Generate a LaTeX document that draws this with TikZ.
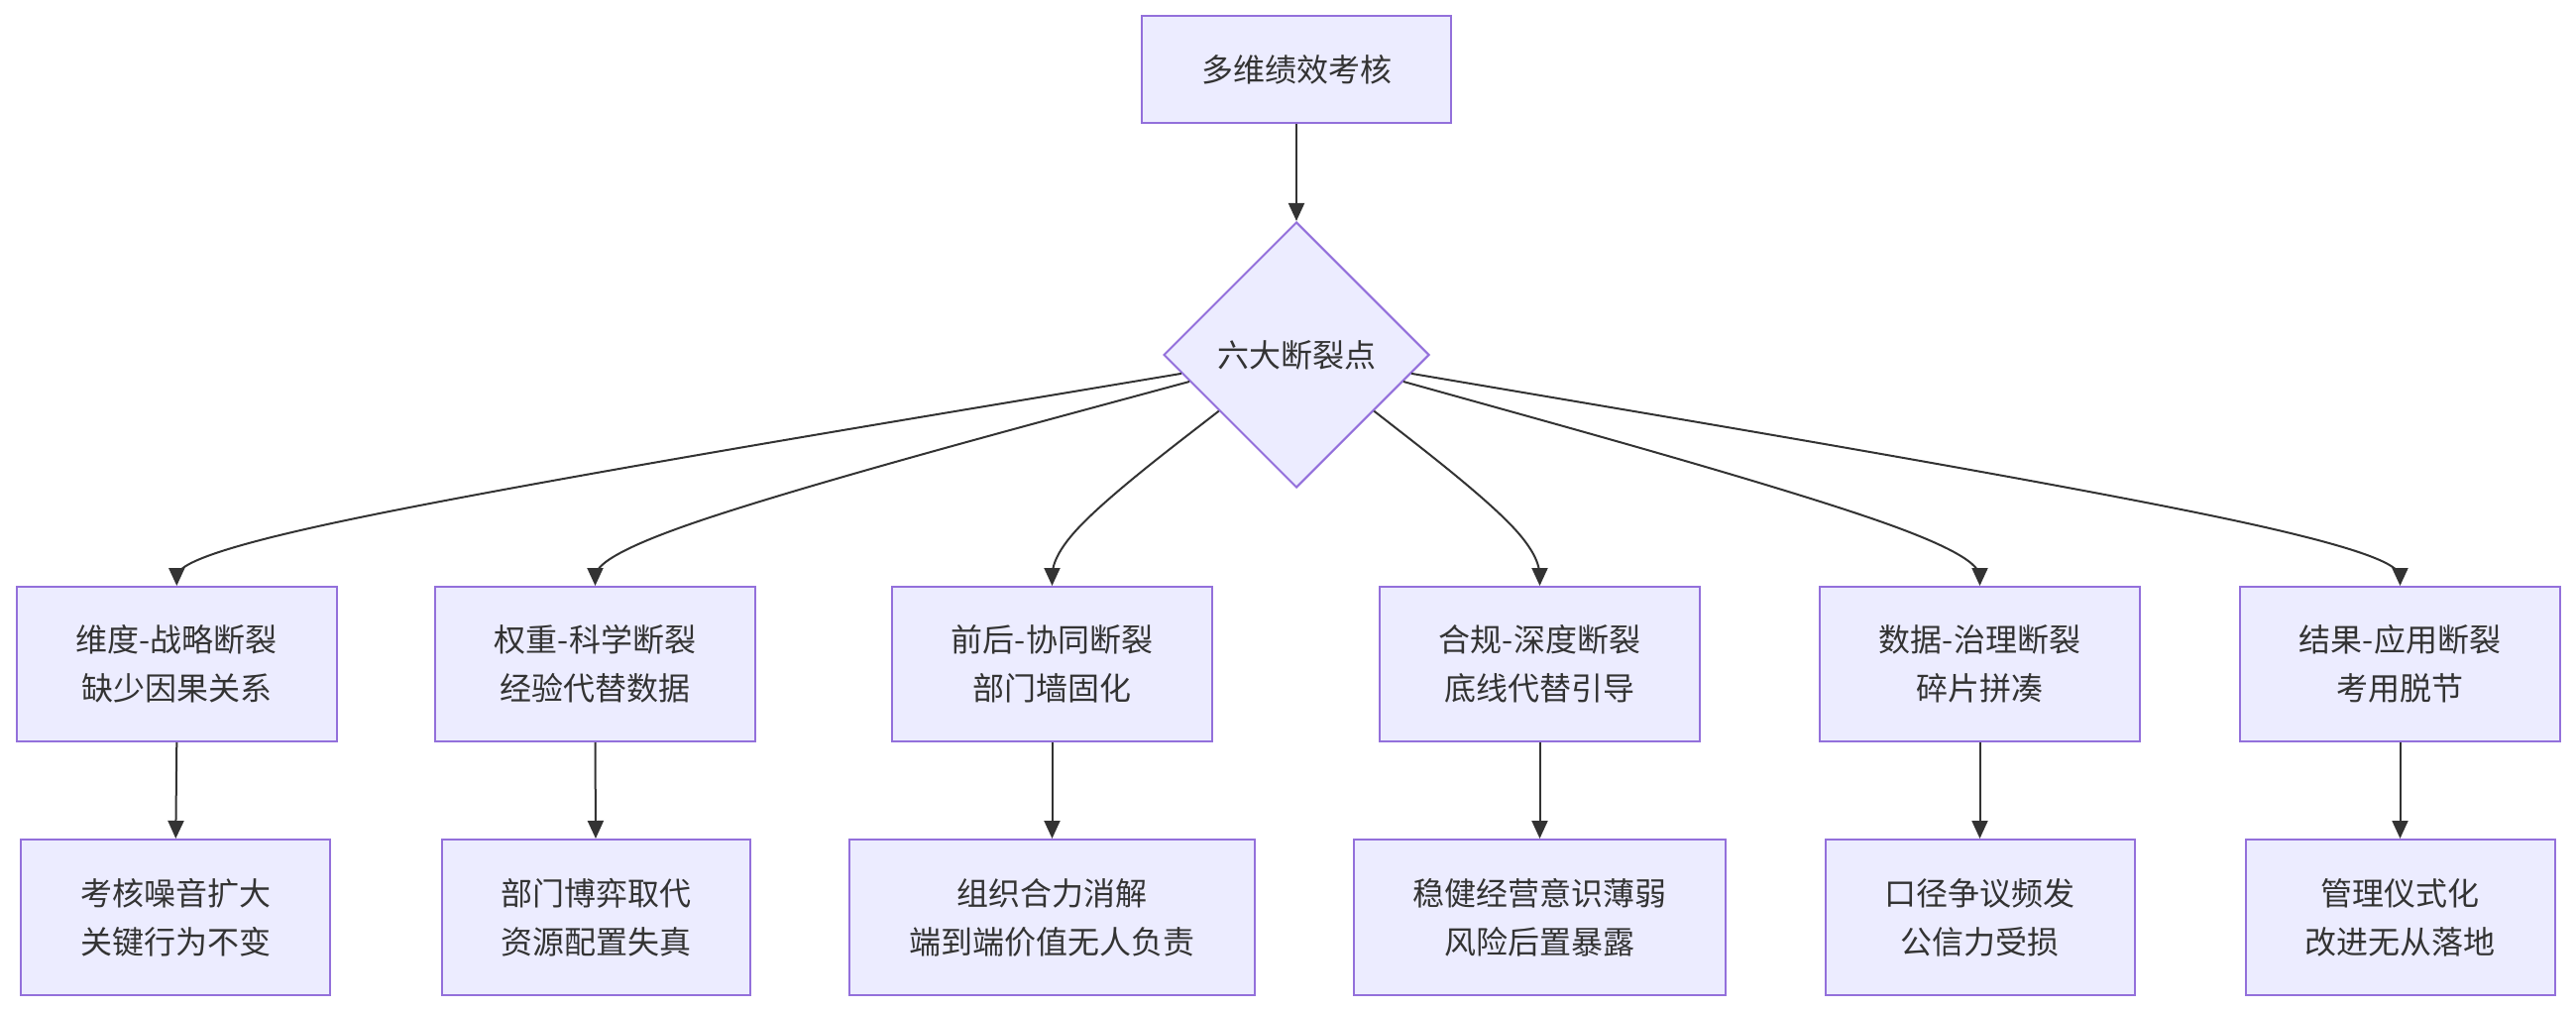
\documentclass[tikz,border=0pt]{standalone}
\usepackage{fontspec}
\setmainfont{Noto Sans CJK SC}
\usetikzlibrary{shapes.geometric,calc,arrows.meta}
\definecolor{mfill}{HTML}{ECECFF}
\definecolor{mline}{HTML}{9370DB}
\definecolor{mtext}{HTML}{333333}
\definecolor{medge}{HTML}{333333}
\newcommand\basisedge[3]{\draw[edge] (#1) -- ($(#1)!0.166667!(#2)$) .. controls ($(#1)!0.333333!(#2)$) and ($(#1)!0.666667!(#2)$) .. ($0.166667*(#1)+0.666667*(#2)+0.166667*(#3)$) .. controls ($(#2)!0.333333!(#3)$) and ($(#2)!0.666667!(#3)$) .. ($(#2)!0.833333!(#3)$) -- (#3);}
\begin{document}
\begin{tikzpicture}[x=0.75pt,y=-0.75pt,
  box/.style={draw=mline,fill=mfill,line width=1.5pt,text=mtext,align=center,inner sep=0pt,
    font=\fontsize{24}{36.75}\selectfont},
  dia/.style={diamond,draw=mline,fill=mfill,line width=1.5pt,text=mtext,inner sep=0pt,
    minimum width=201pt,minimum height=201pt,font=\fontsize{24}{36.75}\selectfont},
  edge/.style={draw=medge,line width=1.5pt,-{Triangle[length=13.5pt,width=12pt]}},
  rowb/.style={box,minimum width=242.25pt,minimum height=117pt},
  rowc/.style={box,minimum height=117.75pt}]
\useasboundingbox (0,0) rectangle (2599,1020);
\node[box,minimum width=234pt,minimum height=81pt] (top) at (1308,70) {多维绩效考核};
\node[dia] (d) at (1308,358) {六大断裂点};
\node[rowb] (b1) at (178.3,670) {维度-战略断裂\\缺少因果关系};
\node[rowb] (b2) at (600.5,670) {权重-科学断裂\\经验代替数据};
\node[rowb] (b3) at (1061.5,670) {前后-协同断裂\\部门墙固化};
\node[rowb] (b4) at (1553.5,670) {合规-深度断裂\\底线代替引导};
\node[rowb] (b5) at (1997.5,670) {数据-治理断裂\\碎片拼凑};
\node[rowb] (b6) at (2421.5,670) {结果-应用断裂\\考用脱节};
\node[rowc,minimum width=234pt] (c1) at (177.3,925.5) {考核噪音扩大\\关键行为不变};
\node[rowc,minimum width=233.25pt] (c2) at (601,925.5) {部门博弈取代\\资源配置失真};
\node[rowc,minimum width=306.75pt] (c3) at (1061.5,925.5) {组织合力消解\\端到端价值无人负责};
\node[rowc,minimum width=281.25pt] (c4) at (1553.5,925.5) {稳健经营意识薄弱\\风险后置暴露};
\node[rowc,minimum width=234pt] (c5) at (1997.5,925.5) {口径争议频发\\公信力受损};
\node[rowc,minimum width=234pt] (c6) at (2421.5,925.5) {管理仪式化\\改进无从落地};
\draw[edge] (top.south) -- (d.north);
\coordinate (s1) at ($(d.west)!0.14!(d.south)$);
\coordinate (s2) at ($(d.west)!0.20!(d.south)$);
\coordinate (s3) at ($(d.west)!0.42!(d.south)$);
\coordinate (s4) at ($(d.east)!0.42!(d.south)$);
\coordinate (s5) at ($(d.east)!0.20!(d.south)$);
\coordinate (s6) at ($(d.east)!0.14!(d.south)$);
\coordinate (m1) at (178.3,546);
\coordinate (m2) at (600.5,547);
\coordinate (m3) at (1061.5,545);
\coordinate (m4) at (1553.5,545);
\coordinate (m5) at (1997.5,547);
\coordinate (m6) at (2421.5,546);
\basisedge{s1}{m1}{b1.north}
\basisedge{s2}{m2}{b2.north}
\basisedge{s3}{m3}{b3.north}
\basisedge{s4}{m4}{b4.north}
\basisedge{s5}{m5}{b5.north}
\basisedge{s6}{m6}{b6.north}
\foreach \i in {1,...,6}{\draw[edge] (b\i.south) -- (c\i.north);}
\end{tikzpicture}
\end{document}
